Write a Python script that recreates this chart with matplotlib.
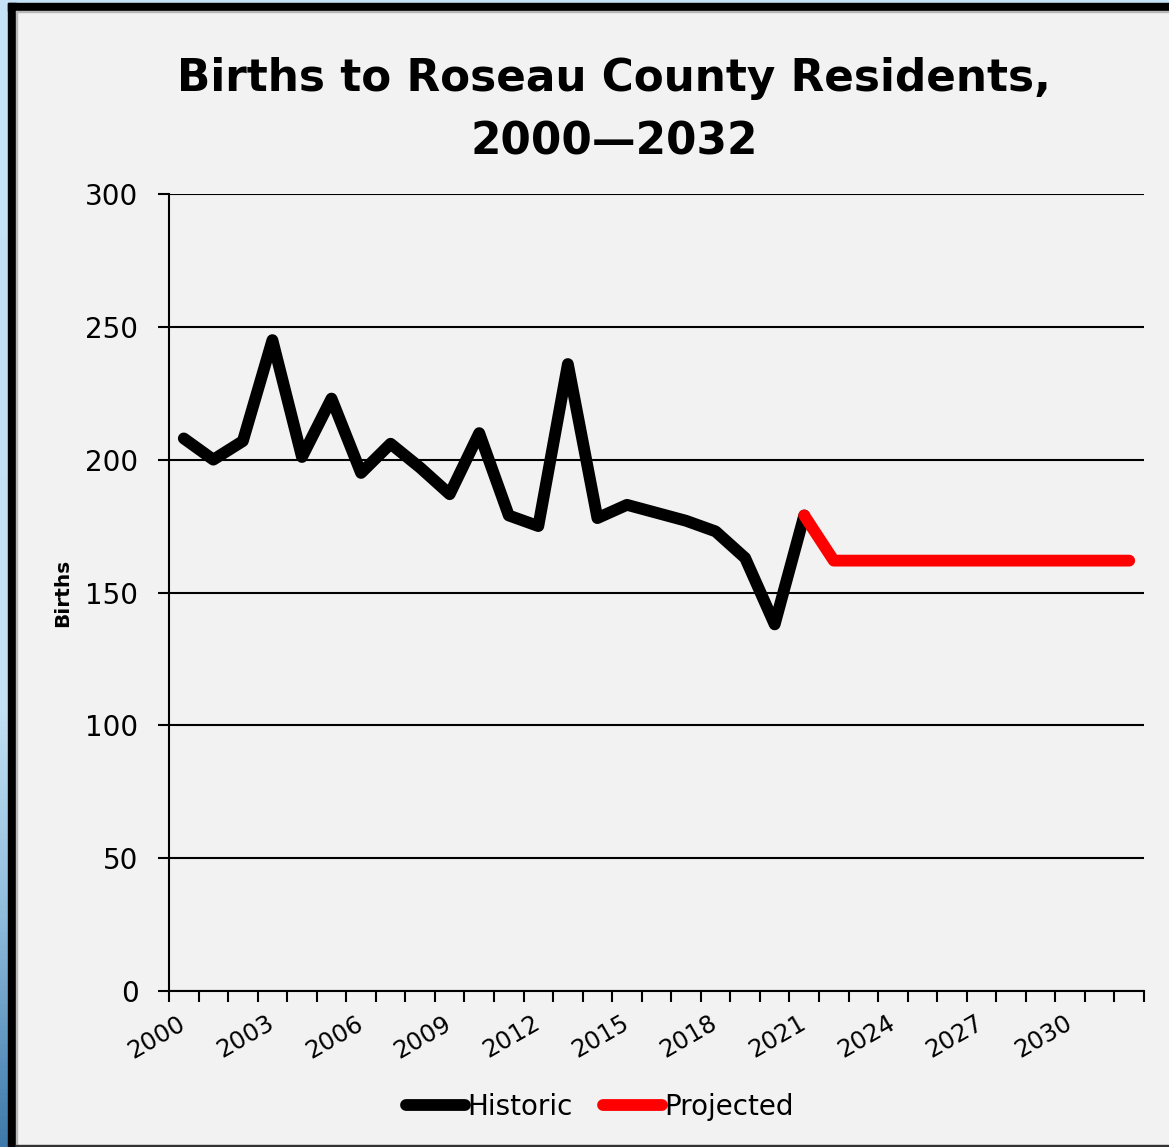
import numpy as np
import matplotlib
matplotlib.use("Agg")
from matplotlib import pyplot as plt
from matplotlib.patches import Rectangle
from matplotlib.lines import Line2D
from matplotlib.colors import LinearSegmentedColormap

# births data
hist_years = list(range(2000, 2022))
hist_births = [208, 200, 207, 245, 201, 223, 195, 206, 197, 187, 210,
               179, 175, 236, 178, 183, 180, 177, 173, 163, 138, 179]
proj_years = list(range(2021, 2033))
proj_births = [179, 162, 162, 162, 162, 162, 162, 162, 162, 162, 162, 162]
all_years = list(range(2000, 2033))
label_years = list(range(2000, 2031, 3))

W, H = 1169, 1147
bg = "#f2f2f2"
plt.rcParams["font.family"] = "DejaVu Sans"

fig = plt.figure(figsize=(W / 100, H / 100), dpi=100, facecolor=bg)

# frame around the chart (pixel coordinates)
deco = fig.add_axes([0, 0, 1, 1], zorder=-5)
deco.set_xlim(0, W)
deco.set_ylim(H, 0)
deco.axis("off")
deco.set_facecolor(bg)
cmap = LinearSegmentedColormap.from_list(
    "edge", [(0, "#c5e2f7"), (0.62, "#c2dff4"), (0.8, "#8fbcdc"), (1, "#3d79aa")])
grad = np.linspace(0, 1, 256).reshape(-1, 1)
deco.imshow(grad, cmap=cmap, extent=(0, 8, H, 0), aspect="auto", zorder=1)
deco.add_patch(Rectangle((0, 0), W, 3, color="#c5e2f7", zorder=1))
deco.add_patch(Rectangle((8, 3), 8, H, color="black", zorder=2))
deco.add_patch(Rectangle((8, 3), W, 8, color="black", zorder=2))
deco.add_patch(Rectangle((16, 11), W, 1, color="#b8b8b8", zorder=2))
deco.add_patch(Rectangle((16, 11), 1, H, color="#b8b8b8", zorder=2))
deco.add_patch(Rectangle((16, H - 2), W, 2, color="#333333", zorder=2))

ax = fig.add_axes([169 / W, 1 - 991 / H, (1144 - 169) / W, (991 - 194) / H])
ax.set_facecolor("none")

xh = [all_years.index(y) for y in hist_years]
xp = [all_years.index(y) for y in proj_years]
ax.plot(xh, hist_births, color="black", lw=8.5, solid_capstyle="round",
        solid_joinstyle="round", zorder=3)
ax.plot(xp, proj_births, color="#ff0000", lw=8.5, solid_capstyle="round",
        solid_joinstyle="round", zorder=4)

ax.set_xlim(-0.5, len(all_years) - 0.5)
ax.set_ylim(0, 300)
ax.set_yticks(np.arange(0, 301, 50))
ax.yaxis.grid(True, color="black", lw=1.5)
ax.set_axisbelow(True)
ax.tick_params(axis="y", length=8, width=1.5, pad=14, labelsize=20)

# year boundaries as ticks, labels every third year
ax.set_xticks(np.arange(-0.5, len(all_years), 1))
ax.set_xticklabels([])
ax.set_xticks([all_years.index(y) for y in label_years], minor=True)
ax.set_xticklabels([str(y) for y in label_years], minor=True, rotation=30,
                   ha="right", va="center", rotation_mode="anchor", fontsize=17.5)
ax.tick_params(axis="x", which="major", length=8, width=1.5)
ax.tick_params(axis="x", which="minor", length=0, pad=22)

for s in ["top", "right"]:
    ax.spines[s].set_visible(False)
ax.spines["left"].set_linewidth(1.5)
ax.spines["bottom"].set_linewidth(1.5)

ax.set_ylabel("Births", fontsize=14.5, fontweight="bold")
ax.yaxis.set_label_coords(-0.0995, 0.5)

fig.text(614 / W, 1 - 78 / H, "Births to Roseau County Residents,",
         ha="center", va="center", fontsize=31.5, fontweight="bold")
fig.text(614 / W, 1 - 142 / H, "2000\u20142032",
         ha="center", va="center", fontsize=31.5, fontweight="bold")

handles = [Line2D([], [], color="black", lw=8.5, solid_capstyle="round"),
           Line2D([], [], color="#ff0000", lw=8.5, solid_capstyle="round")]
fig.legend(handles, ["Historic", "Projected"], loc="center",
           bbox_to_anchor=(600 / W, 1 - 1107 / H), ncol=2, frameon=False,
           fontsize=20, handlelength=2.1, handletextpad=0.1, columnspacing=1.1)

fig.savefig("out.png", dpi=100, facecolor=bg)
